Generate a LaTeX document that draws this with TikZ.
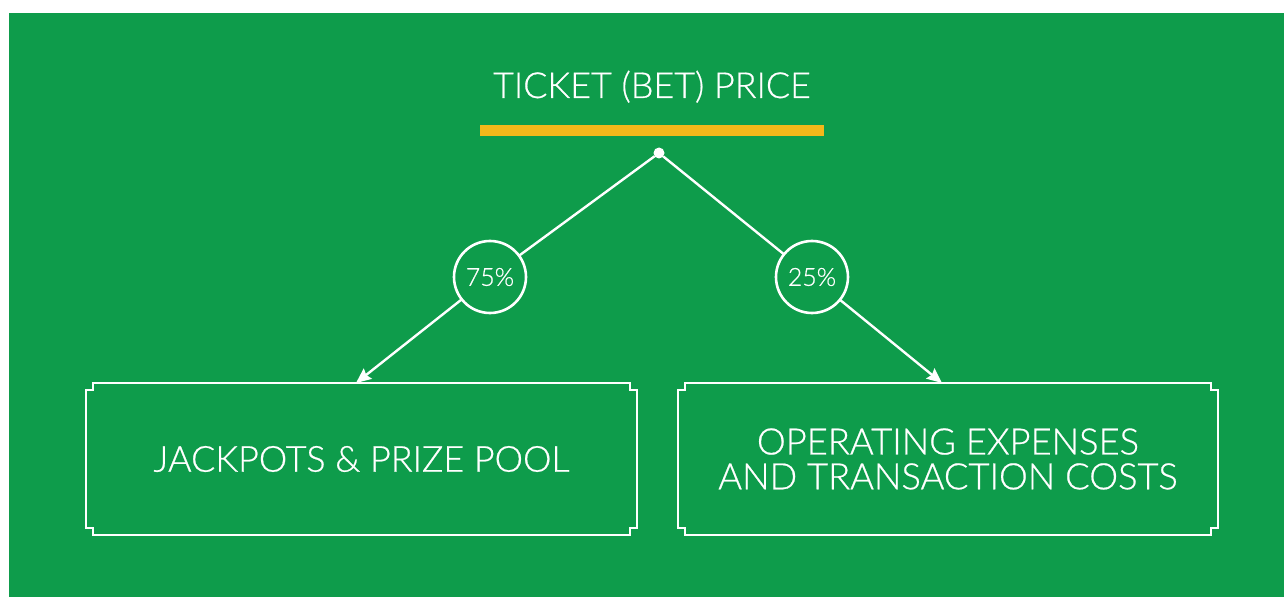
\documentclass[tikz,border=0pt]{standalone}
\usepackage{fontspec}
\setmainfont{Lato Light}[FakeBold=0.6]
\usetikzlibrary{arrows.meta,calc}
\definecolor{bggreen}{HTML}{0E9C4B}
\definecolor{baryellow}{HTML}{F3B81A}

\newcommand{\notchframe}[1]{%
  \draw[frame] ($(#1.north west)+(0,7)$) -- ++(7,0) -- ++(0,-7)
    -- ($(#1.north east)+(-7,0)$) -- ++(0,7) -- ++(7,0)
    -- ($(#1.south east)+(0,-7)$) -- ++(-7,0) -- ++(0,7)
    -- ($(#1.south west)+(7,0)$) -- ++(0,-7) -- ++(-7,0) -- cycle;}

\begin{document}
\begin{tikzpicture}[x=1bp, y=-1bp,
    every node/.style={text=white, inner sep=0pt, outer sep=0pt},
    frame/.style={draw=white, line width=2.4bp},
    link/.style={draw=white, line width=2.4bp},
    tip/.style={-{Stealth[length=15bp, width=13bp, inset=2bp]}},
    box/.style={rectangle, minimum height=152bp, align=center,
      font=\fontsize{36}{35}\selectfont},
    pct/.style={circle, draw=white, line width=2.6bp, fill=bggreen,
      minimum size=72bp, font=\fontsize{25}{25}\selectfont},
    dot/.style={circle, fill=white, minimum size=11bp},
    bar/.style={rectangle, fill=baryellow, minimum width=344bp, minimum height=10.5bp}]
  \useasboundingbox (0,0) rectangle (1284,597);
  \fill[white] (0,0) rectangle (1284,597);
  \fill[bggreen] (9,13) rectangle (1284,597);

  \node[anchor=base, font=\fontsize{36}{36}\selectfont] (title) at (652,98) {TICKET (BET) PRICE};
  \node[bar] (bar) at (652,130.5) {};
  \node[dot] (top) at (659,153) {};

  \node[box, minimum width=551bp] (pool) at (361.5,459) {JACKPOTS \& PRIZE POOL};
  \node[box, minimum width=540bp, font=\fontsize{36.5}{35}\selectfont] (costs) at (948,459) {OPERATING EXPENSES\\AND TRANSACTION COSTS};
  \notchframe{pool}
  \notchframe{costs}

  \coordinate (tipL) at (356,383);
  \coordinate (tipR) at (942,383);

  \node[pct] (p75) at (490,277) {75\%};
  \node[pct] (p25) at (812,277) {25\%};

  \draw[link] (top) -- (p75);
  \draw[link, tip] (p75) -- (tipL);
  \draw[link] (top) -- (p25);
  \draw[link, tip] (p25) -- (tipR);
\end{tikzpicture}
\end{document}
